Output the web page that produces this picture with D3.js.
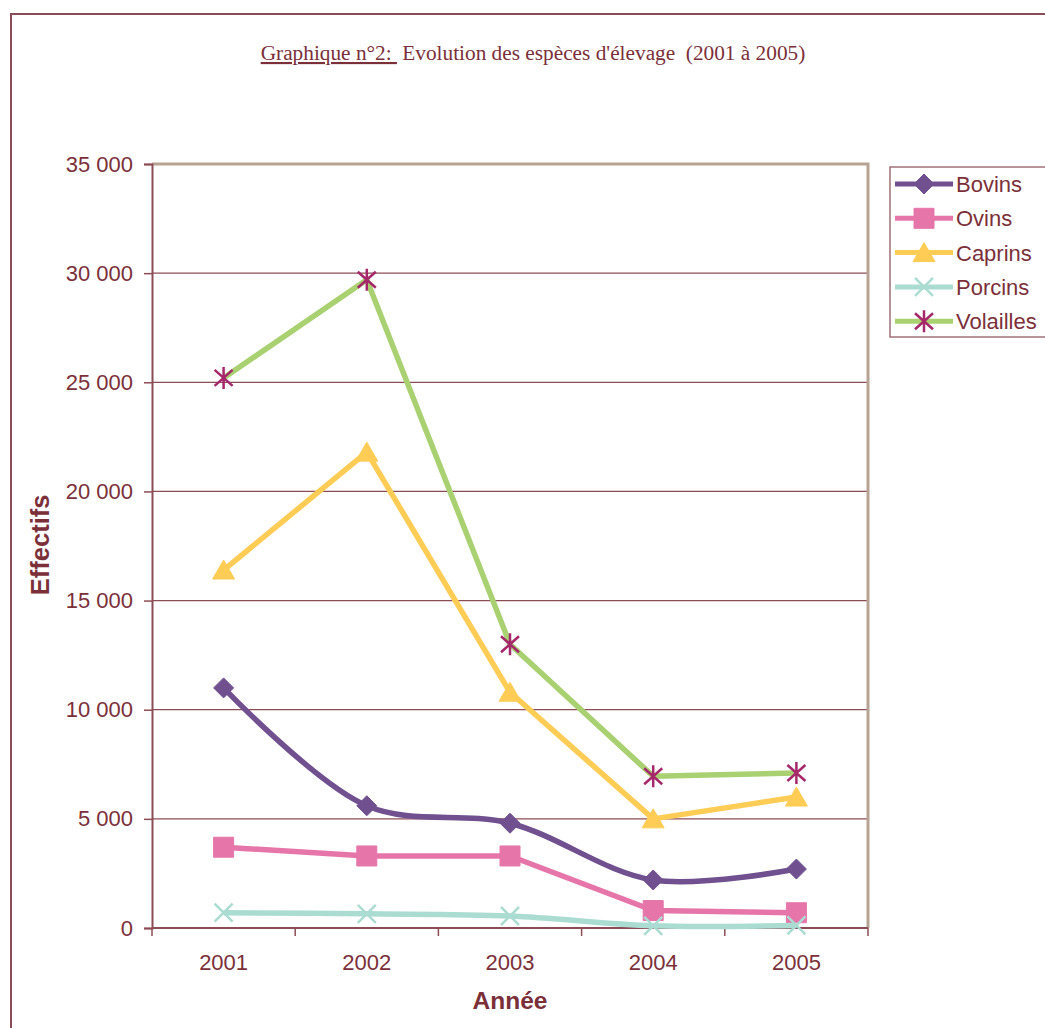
<!DOCTYPE html>
<html>
<head>
<meta charset="utf-8">
<script src="https://cdn.jsdelivr.net/npm/d3@7"></script>
<style>
  html, body { margin: 0; padding: 0; background: #fff; }
  svg { display: block; }
</style>
</head>
<body>
<svg id="chart" width="1045" height="1028"></svg>
<script>
// Livestock headcounts by year
const years = ["2001", "2002", "2003", "2004", "2005"];
const bovins    = [11000, 5600, 4800, 2200, 2700];
const ovins     = [3700, 3300, 3300, 800, 700];
const caprins   = [16400, 21800, 10800, 5000, 6000];
const porcins   = [700, 650, 550, 100, 120];
const volailles = [25200, 29700, 13000, 6950, 7100];
const seriesNames = ["Bovins", "Ovins", "Caprins", "Porcins", "Volailles"];
const yTicks = [0, 5000, 10000, 15000, 20000, 25000, 30000, 35000];

const textColor = "#7b3039";
const gridColor = "#8c4c56";
const borderTan = "#b7a394";

const series = [
  { name: "Bovins",    values: bovins,    line: "#70508f", marker: "#70508f", shape: "diamond",  smooth: true },
  { name: "Ovins",     values: ovins,     line: "#e676aa", marker: "#e676aa", shape: "square",   smooth: false },
  { name: "Caprins",   values: caprins,   line: "#ffcc55", marker: "#ffcc55", shape: "triangle", smooth: false },
  { name: "Porcins",   values: porcins,   line: "#abdcd2", marker: "#abdcd2", shape: "cross",    smooth: true },
  { name: "Volailles", values: volailles, line: "#a9d171", marker: "#a5286a", shape: "star",     smooth: false }
];

const svg = d3.select("#chart");
const plot = { left: 152, right: 868, top: 164, bottom: 928 };

// Outer frame of the figure
svg.append("path")
  .attr("d", `M11,1028 V14 H1045`)
  .attr("fill", "none").attr("stroke", "#8a4d57").attr("stroke-width", 2);

// Title with underlined prefix
const title = svg.append("text")
  .attr("x", 533).attr("y", 60)
  .attr("text-anchor", "middle")
  .attr("font-family", "'Liberation Serif', 'Times New Roman', serif")
  .attr("font-size", 21.3)
  .attr("fill", textColor)
  .attr("xml:space", "preserve")
  .style("white-space", "pre");
title.append("tspan").attr("text-decoration", "underline").text("Graphique n°2: ");
title.append("tspan").text(" Evolution des espèces d'élevage  (2001 à 2005)");

const x = d3.scaleBand().domain(years).range([plot.left, plot.right]).padding(0);
const y = d3.scaleLinear().domain([0, 35000]).range([plot.bottom, plot.top]);
const cx = d => x(d) + x.bandwidth() / 2;

// Horizontal gridlines
svg.append("g").selectAll("line")
  .data(yTicks.filter(v => v > 0 && v < 35000))
  .join("line")
  .attr("x1", plot.left).attr("x2", plot.right)
  .attr("y1", d => y(d)).attr("y2", d => y(d))
  .attr("stroke", gridColor).attr("stroke-width", 1.2);

// Plot area top and right border
svg.append("path")
  .attr("d", `M${plot.left},${y(35000)} H${plot.right} V${plot.bottom}`)
  .attr("fill", "none").attr("stroke", borderTan).attr("stroke-width", 3);

// Y axis
const fmt = v => d3.format(",")(v).replace(/,/g, " ");
const yAxis = svg.append("g")
  .attr("transform", `translate(${plot.left},0)`)
  .call(d3.axisLeft(y).tickValues(yTicks).tickFormat(fmt).tickSize(8).tickPadding(11));
yAxis.select(".domain").attr("stroke", gridColor).attr("stroke-width", 2);
yAxis.selectAll(".tick line").attr("stroke", gridColor).attr("stroke-width", 1.5);
yAxis.selectAll(".tick text")
  .attr("font-family", "'Liberation Sans', Arial, sans-serif")
  .attr("font-size", 22).attr("fill", textColor);

// X axis: labels centred on categories, ticks on category boundaries
const xAxis = svg.append("g")
  .attr("transform", `translate(0,${plot.bottom})`)
  .call(d3.axisBottom(x).tickSize(0).tickPadding(26));
xAxis.select(".domain").remove();
xAxis.selectAll(".tick text")
  .attr("font-family", "'Liberation Sans', Arial, sans-serif")
  .attr("font-size", 22).attr("fill", textColor);
svg.append("line")
  .attr("x1", plot.left).attr("x2", plot.right)
  .attr("y1", plot.bottom).attr("y2", plot.bottom)
  .attr("stroke", gridColor).attr("stroke-width", 2);
const bounds = years.map(d => x(d)).concat([x(years[years.length - 1]) + x.bandwidth()]);
svg.append("g").selectAll("line").data(bounds).join("line")
  .attr("x1", d => d).attr("x2", d => d)
  .attr("y1", plot.bottom).attr("y2", plot.bottom + 8)
  .attr("stroke", gridColor).attr("stroke-width", 1.5);

// Axis titles
svg.append("text")
  .attr("x", cx("2003")).attr("y", 1009)
  .attr("text-anchor", "middle")
  .attr("font-family", "'Liberation Sans', Arial, sans-serif")
  .attr("font-weight", "bold").attr("font-size", 24.5)
  .attr("fill", textColor).text("Année");
svg.append("text")
  .attr("transform", `translate(49,${y(17550)}) rotate(-90)`)
  .attr("text-anchor", "middle")
  .attr("font-family", "'Liberation Sans', Arial, sans-serif")
  .attr("font-weight", "bold").attr("font-size", 25.5)
  .attr("fill", textColor).text("Effectifs");

// Marker shapes
function markerPath(shape) {
  switch (shape) {
    case "diamond":  return "M0,-10 L10,0 L0,10 L-10,0 Z";
    case "square":   return "M-10,-10 H10 V10 H-10 Z";
    case "triangle": return "M0,-10 L11,9 L-11,9 Z";
    case "cross":    return "M-9,-9 L9,9 M9,-9 L-9,9";
    case "star":     return "M-9,-8 L9,8 M9,-8 L-9,8 M0,-11 V11";
  }
}
function drawMarker(g, s, px, py) {
  const filled = s.shape === "diamond" || s.shape === "square" || s.shape === "triangle";
  g.append("path")
    .attr("transform", `translate(${px},${py})`)
    .attr("d", markerPath(s.shape))
    .attr("fill", filled ? s.marker : "none")
    .attr("stroke", s.marker)
    .attr("stroke-width", filled ? 1 : 2.5);
}

// Series lines and markers
series.forEach(s => {
  const line = d3.line()
    .x((v, i) => cx(years[i]))
    .y(v => y(v))
    .curve(s.smooth ? d3.curveCatmullRom.alpha(0.5) : d3.curveLinear);
  const g = svg.append("g");
  g.append("path")
    .attr("d", line(s.values))
    .attr("fill", "none")
    .attr("stroke", s.line)
    .attr("stroke-width", 5.5)
    .attr("stroke-linejoin", "round");
  s.values.forEach((v, i) => drawMarker(g, s, cx(years[i]), y(v)));
});

// Legend
const legend = svg.append("g");
legend.append("rect")
  .attr("x", 890).attr("y", 167).attr("width", 170).attr("height", 170)
  .attr("fill", "#fff").attr("stroke", "#a0707a").attr("stroke-width", 1.5);
series.forEach((s, i) => {
  const ly = 184 + i * 34.3;
  const g = legend.append("g");
  g.append("line")
    .attr("x1", 895).attr("x2", 953).attr("y1", ly).attr("y2", ly)
    .attr("stroke", s.line).attr("stroke-width", 5);
  drawMarker(g, s, 924, ly);
  g.append("text")
    .attr("x", 956).attr("y", ly)
    .attr("dy", "0.36em")
    .attr("font-family", "'Liberation Sans', Arial, sans-serif")
    .attr("font-size", 22).attr("fill", textColor)
    .text(seriesNames[i]);
});
</script>
</body>
</html>
